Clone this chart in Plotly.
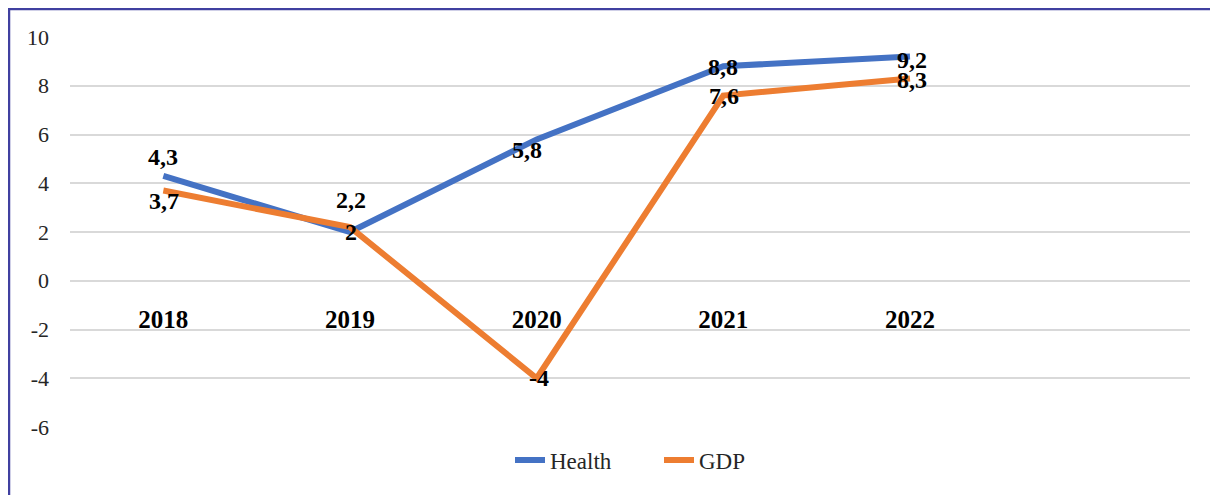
import plotly.graph_objects as go

years = ["2018", "2019", "2020", "2021", "2022"]
health = [4.3, 2.0, 5.8, 8.8, 9.2]
gdp = [3.7, 2.2, -4.0, 7.6, 8.3]
y_ticks = [-6, -4, -2, 0, 2, 4, 6, 8, 10]
y_tick_text = ["-6", "-4", "-2", "0", "2", "4", "6", "8", "10"]
# label offsets (pixels) relative to each point
health_dx = [0, 1, -10, 0, 2]
health_dy = [19, 0, -11, -1, -3]
gdp_dx = [1, 1, 2, 1, 2]
gdp_dy = [-10, 27, 0, 0, -2]

def fmt(v):
    return f"{v:g}".replace(".", ",")

SERIF = "Liberation Serif"
# the page body adds an 8px offset; figure sized to compensate
W, H = 1210, 487
L, R, T, B = 62, 28, 29, 68
pw, ph = W - L - R, H - T - B

fig = go.Figure()
fig.add_trace(go.Scatter(
    x=years, y=health, name="Health", mode="lines",
    line=dict(color="#4472C4", width=6),
))
fig.add_trace(go.Scatter(
    x=years, y=gdp, name="GDP", mode="lines",
    line=dict(color="#ED7D31", width=6),
))

annotations = []
for ys, dxs, dys in [(health, health_dx, health_dy), (gdp, gdp_dx, gdp_dy)]:
    for i, (yv, dx, dy) in enumerate(zip(ys, dxs, dys)):
        annotations.append(dict(
            x=i, y=yv, xref="x", yref="y", text=fmt(yv), showarrow=False,
            xanchor="center", yanchor="middle", xshift=dx, yshift=dy,
            font=dict(family=SERIF, size=24, color="#000000", weight="bold"),
        ))

fig.update_layout(
    width=W, height=H,
    margin=dict(l=L, r=R, t=T, b=B),
    paper_bgcolor="white", plot_bgcolor="white",
    font=dict(family=SERIF, color="#262626"),
    annotations=annotations,
    legend=dict(orientation="h", x=(510 - 70) / pw, xanchor="left",
                y=-(452 - (H - B)) / ph, yanchor="middle",
                entrywidth=104, entrywidthmode="pixels",
                font=dict(family=SERIF, size=23, color="#262626"),
                bgcolor="rgba(0,0,0,0)"),
    xaxis=dict(type="category", categoryorder="array", categoryarray=years,
               range=[-0.5, 5.5], showgrid=False, zeroline=False, showline=False,
               ticks="", anchor="free", position=6 / 16, ticklabelstandoff=21,
               tickfont=dict(family=SERIF, size=25, color="#000000", weight="bold")),
    yaxis=dict(range=[-6, 10], tickvals=y_ticks, ticktext=y_tick_text,
               showgrid=True, gridcolor="#d9d9d9",
               gridwidth=1.5, zeroline=False, showline=False, ticks="",
               ticklabelstandoff=20,
               tickfont=dict(family=SERIF, size=22, color="#262626")),
    shapes=[dict(type="rect", xref="paper", yref="paper",
                 x0=(1 - L) / pw, x1=(1209 - L) / pw,
                 y0=(H - B - 505) / ph, y1=(H - B - 1) / ph,
                 line=dict(color="#4040a0", width=2.5), layer="below")],
)

fig.write_html("out.html")
